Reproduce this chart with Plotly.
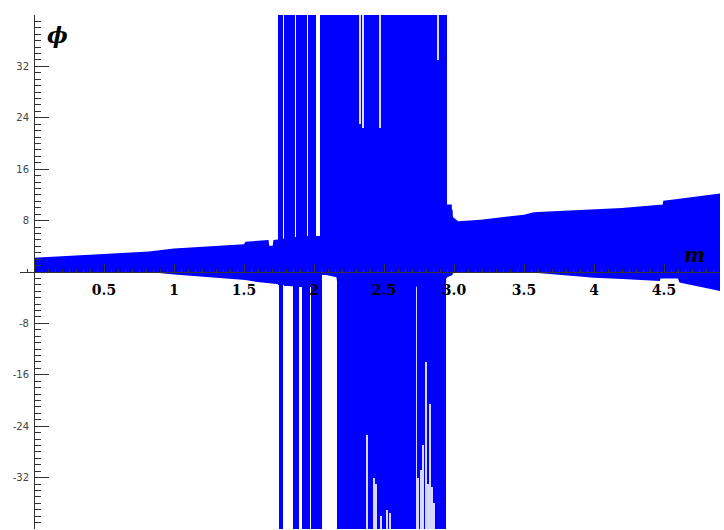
import plotly.graph_objects as go

# ---- data ----
# main band envelope: m, upper phi, lower phi
env_m = [0.00, 0.25, 0.50, 0.75, 0.82, 1.00, 1.23, 1.50, 1.51, 1.61, 1.675, 1.68, 1.705, 1.71,
         1.77, 1.83, 1.94, 2.04, 2.055, 2.16, 2.17, 2.94, 2.945, 2.984, 2.985, 2.99, 2.992,
         3.00, 3.03, 3.19, 3.50, 3.57, 3.60, 4.00, 4.20, 4.47, 4.475, 4.49, 4.495, 4.60,
         4.61, 4.90]
env_upper = [2.2, 2.5, 2.75, 3.05, 3.2, 3.65, 3.95, 4.3, 4.7, 4.9, 5.0, 4.1, 4.1, 5.0,
             5.1, 5.3, 5.6, 5.6, 5.6, 5.6, 5.6, 5.6, 10.5, 10.5, 9.7, 9.7, 8.6,
             8.4, 7.9, 8.15, 8.9, 9.3, 9.35, 9.8, 9.95, 10.45, 10.45, 10.45, 11.1, 11.35,
             11.4, 12.2]
env_lower = [0.0, 0.0, 0.0, 0.0, 0.0, -0.4, -0.75, -1.2, -1.25, -1.6, -1.75, -1.75, -1.8, -1.8,
             -1.95, -2.2, -2.3, -2.3, -0.3, -0.8, -2.3, -2.3, -0.9, -0.6, -0.5, -0.4, -0.2,
             0.0, 0.0, 0.0, 0.0, 0.0, -0.15, -0.9, -1.1, -1.4, -1.0, -1.0, -1.0, -1.0,
             -1.65, -2.95]

# chaotic columns: m start, m end, lower phi, upper phi
col_m0 = [1.745, 1.750, 1.786, 1.857, 1.861, 1.869, 1.891, 1.914, 1.952, 1.961, 1.971,
          1.984, 1.986, 1.993, 2.013, 2.043, 2.055, 2.166, 2.943]
col_m1 = [1.750, 1.781, 1.857, 1.861, 1.869, 1.891, 1.914, 1.952, 1.961, 1.971, 1.984,
          1.986, 1.993, 2.013, 2.043, 2.055, 2.166, 2.943, 2.948]
col_lo = [-2.0, -40, -2.2, -40, -40, -40, -2.3, -40, -40, -40, -2.3,
          -40, -40, -40, -40, -40, -0.5, -40, -0.9]
col_hi = [40, 40, 40, 40, 5.4, 40, 40, 40, 5.6, 40, 40,
          40, 5.6, 40, 5.6, 40, 40, 40, 40]

# thin gaps inside the chaotic block: m, lower phi, upper phi
gap_m = [2.329, 2.348, 2.471, 2.888,
         2.376, 2.430, 2.440, 2.476, 2.520, 2.540, 2.732, 2.743, 2.764, 2.781, 2.798,
         2.816, 2.829, 2.840, 2.857]
gap_lo = [23, 22.4, 22.4, 33,
          -40, -40, -40, -40, -40, -40, -40, -40, -40, -40, -40,
          -40, -40, -40, -40]
gap_hi = [40, 40, 40, 40,
          -25.4, -32, -33, -38, -37, -37.5, -1.9, -32, -30.8, -27, -14,
          -33, -20.5, -33.5, -36]

x_tickvals = [0.5, 1, 1.5, 2, 2.5, 3, 3.5, 4, 4.5]
x_ticktext = ["0.5", "1", "1.5", "2", "2.5", "3.0", "3.5", "4", "4.5"]
y_tickvals = [-40, -32, -24, -16, -8, 0, 8, 16, 24, 32, 40]
y_ticktext = ["", "-32", "-24", "-16", "-8", "", "8", "16", "24", "32", ""]

BLUE = "#0000FF"

fig = go.Figure()

fig.add_trace(go.Scatter(x=env_m, y=env_lower, mode="lines", line=dict(width=0, color=BLUE),
                         showlegend=False, hoverinfo="skip"))
fig.add_trace(go.Scatter(x=env_m, y=env_upper, mode="lines", line=dict(width=0, color=BLUE),
                         fill="tonexty", fillcolor=BLUE, showlegend=False, hoverinfo="skip"))

fig.add_trace(go.Bar(
    x=[(a + b) / 2 for a, b in zip(col_m0, col_m1)],
    width=[b - a for a, b in zip(col_m0, col_m1)],
    base=col_lo,
    y=[h - l for l, h in zip(col_lo, col_hi)],
    marker=dict(color=BLUE, line=dict(width=0)),
    showlegend=False, hoverinfo="skip"))

fig.add_trace(go.Bar(
    x=gap_m,
    width=[0.006] * len(gap_m),
    base=gap_lo,
    y=[h - l for l, h in zip(gap_lo, gap_hi)],
    marker=dict(color="#d8d8ff", line=dict(width=0)),
    showlegend=False, hoverinfo="skip"))

axis_col = "#333333"

fig.update_layout(
    width=724, height=530,
    margin=dict(l=20, r=4, t=15, b=1),
    plot_bgcolor="white", paper_bgcolor="white",
    barmode="overlay", bargap=0,
    xaxis=dict(
        range=[-0.1, 4.9], anchor="free", position=0.5,
        showgrid=False, zeroline=False,
        showline=True, linecolor=axis_col, linewidth=1,
        tickmode="array", tickvals=x_tickvals, ticktext=x_ticktext,
        ticks="inside", ticklen=8, tickcolor=axis_col, tickwidth=1,
        ticklabelstandoff=5,
        tickfont=dict(family="DejaVu Serif", size=14, color="black", weight="bold"),
        minor=dict(tickmode="linear", tick0=0, dtick=0.05, ticks="inside", ticklen=3,
                   tickcolor=axis_col, tickwidth=1),
    ),
    yaxis=dict(
        range=[-40, 40], anchor="free", position=0.02,
        showgrid=False, zeroline=False,
        showline=True, linecolor=axis_col, linewidth=1,
        tickmode="array", tickvals=y_tickvals, ticktext=y_ticktext,
        ticks="inside", ticklen=14, tickcolor=axis_col, tickwidth=1,
        ticklabelstandoff=3,
        tickfont=dict(family="DejaVu Sans", size=10, color="#444444"),
        minor=dict(tickmode="linear", tick0=0, dtick=1, ticks="inside", ticklen=6,
                   tickcolor=axis_col, tickwidth=1),
    ),
    annotations=[
        dict(x=0.17, y=36.9, xref="x", yref="y", text="<b><i>ϕ</i></b>", showarrow=False,
             font=dict(family="DejaVu Serif", size=22, color="black")),
        dict(x=4.72, y=2.7, xref="x", yref="y", text="<b><i>m</i></b>", showarrow=False,
             font=dict(family="DejaVu Serif", size=20, color="black")),
    ],
)

fig.write_html("out.html")
